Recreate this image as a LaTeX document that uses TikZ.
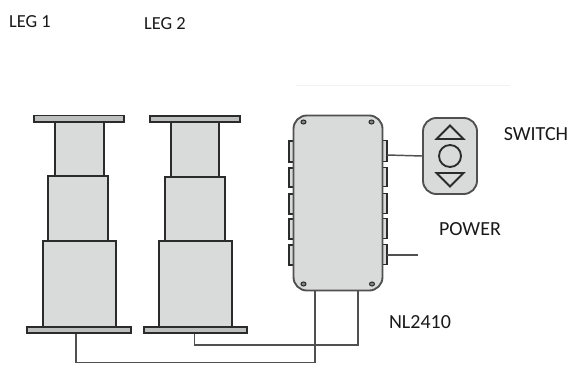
\documentclass[tikz,border=0pt]{standalone}
\usepackage{fontspec}
\setmainfont{Carlito}
\definecolor{fillg}{HTML}{D9DBDA}
\definecolor{plateg}{HTML}{BDBFBE}
\definecolor{edge}{HTML}{2B2B2B}
\definecolor{wire}{HTML}{505050}
\tikzset{
  part/.style={draw=edge,line width=1.4pt,fill=fillg},
  plate/.style={draw=edge,line width=1.2pt,fill=plateg},
  tab/.style={draw=edge,line width=1pt,fill=fillg},
  cable/.style={draw=wire,line width=1.1pt},
  screw/.style={draw=edge,line width=0.8pt,fill=plateg!70!black},
  lbl/.style={inner sep=0pt,font=\fontsize{15}{17}\selectfont,text=black!90},
  lblsmall/.style={inner sep=0pt,font=\fontsize{13.8}{16}\selectfont,text=black!90}
}
\begin{document}
\begin{tikzpicture}[x=0.75pt,y=-0.75pt]
\useasboundingbox (0,0) rectangle (571,378);
\node[lblsmall] (leg1) at (30,22) {LEG 1};
\node[lblsmall] (leg2) at (165,24) {LEG 2};
\node[lbl] (switchlbl) at (536,134) {SWITCH};
\node[lbl] (powerlbl) at (470,229) {POWER};
\node[lbl] (nl) at (420,322) {NL2410};
\draw[draw=black!5,line width=0.5pt] (296,85) -- (510,85);
% cables
\coordinate (c1a) at (76,333);
\coordinate (c1b) at (315,291);
\coordinate (c2a) at (194.5,333);
\coordinate (c2b) at (358,291);
\draw[cable] (c1a) |- (315,362.5) -- (c1b);
\draw[cable] (c2a) |- (358,345) -- (c2b);
% leg 1
\draw[part] (55,122) rectangle (104,176);
\draw[part] (48,176) rectangle (108,241);
\draw[part] (43,241) rectangle (116,327);
\draw[plate] (34,115.5) rectangle (124,122);
\draw[plate] (27,327) rectangle (131,333);
% leg 2
\draw[part] (171,122) rectangle (219,177);
\draw[part] (165,177) rectangle (225,241);
\draw[part] (159,241) rectangle (232,327);
\draw[plate] (150,116) rectangle (240,122);
\draw[plate] (144,327) rectangle (247,333);
% box tabs
\foreach \y/\h in {141/21,168/19,194/20,219/20,245/20}{
  \draw[tab] (289,\y) rectangle (294,\y+\h);
  \draw[tab] (382,\y-0.5) rectangle (387,\y+\h-0.5);
}
\node[draw=wire,line width=1.4pt,fill=fillg,rounded corners=10pt,minimum width=89*0.75pt,minimum height=175*0.75pt,inner sep=0pt] (box) at (338,203) {};
\foreach \x/\y in {303.5/122,371.5/122,303.5/284,372/284}{
  \draw[screw] (\x,\y) ellipse (2.5 and 2);
}
% switch
\node[draw=wire,line width=1.4pt,fill=fillg,rounded corners=10pt,minimum width=54*0.75pt,minimum height=76*0.75pt,inner sep=0pt] (sw) at (450,156) {};
\draw[cable] (387,155) -- (sw.west);
\coordinate (pw) at (418,255);
\draw[cable] (387,255) -- (pw);
\draw[edge,line width=1.4pt] (436.5,139) -- (450,125.5) -- (463.5,139) -- cycle;
\draw[edge,line width=1.4pt] (450,156) circle (11);
\draw[edge,line width=1.4pt] (436.5,173) -- (450,186.5) -- (463.5,173) -- cycle;
\end{tikzpicture}
\end{document}
